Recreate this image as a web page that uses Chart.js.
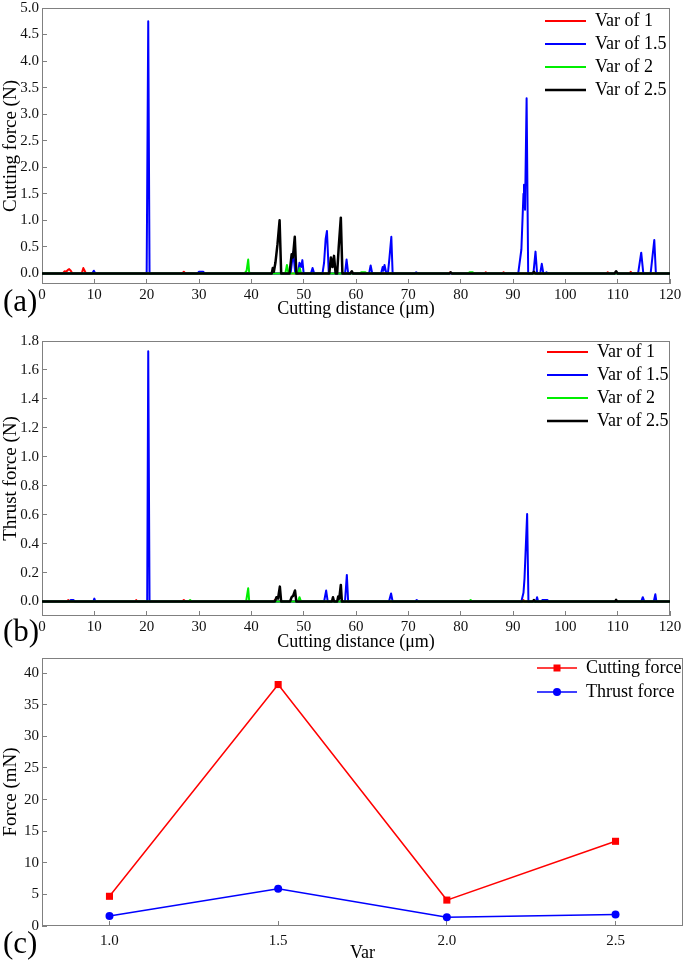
<!DOCTYPE html>
<html><head><meta charset="utf-8">
<script src="https://cdn.jsdelivr.net/npm/chart.js@4.4.0/dist/chart.umd.min.js"></script>
<style>
html,body{margin:0;padding:0;background:#fff;}
body{width:685px;height:965px;position:relative;overflow:hidden;font-family:'Liberation Serif',serif;}
canvas{position:absolute;left:0;}
.lbl{position:absolute;left:3px;font-size:31px;line-height:1;color:#000;font-family:'Liberation Serif',serif;}
</style></head><body>
<canvas id="ca" width="685" height="320" style="top:0px"></canvas>
<canvas id="cb" width="685" height="335" style="top:320px"></canvas>
<canvas id="cc" width="685" height="310" style="top:655px"></canvas>
<div class="lbl" style="top:285px">(a)</div>
<div class="lbl" style="top:615px">(b)</div>
<div class="lbl" style="top:927px">(c)</div>
<script>
// ---------- DATA ----------
const seriesNames = ['Var of 1', 'Var of 1.5', 'Var of 2', 'Var of 2.5'];
const seriesColors = ['#ff0000', '#0000ff', '#00ee00', '#000000'];

// Panel (a): cutting force (N) vs cutting distance (um), [distance, force]
const cutVar1 = [[0,0],[4.0,0],[4.3,0.04],[4.6,0.03],[4.9,0.06],[5.2,0.08],[5.5,0.05],[5.8,0],[7.6,0],[7.9,0.1],[8.1,0.06],[8.4,0],
  [26.8,0],[27.1,0.03],[27.4,0],[77.8,0],[78.0,0.02],[78.2,0],[84.6,0],[84.8,0.02],[85.0,0],[88.0,0],[88.2,0.02],[88.4,0],
  [107.9,0],[108.1,0.02],[108.3,0],[112.3,0],[112.5,0.03],[112.7,0],[120,0]];
const cutVar15 = [[0,0],[9.6,0],[9.9,0.05],[10.2,0],[20.0,0],[20.3,4.75],[20.55,0],[29.7,0],[30.0,0.03],[30.8,0.03],[31.1,0],
  [47.5,0],[48.0,0.4],[48.4,0],[48.9,0],[49.2,0.2],[49.5,0.12],[49.75,0.25],[50.0,0],[51.4,0],[51.7,0.1],[52.0,0],
  [53.6,0],[53.9,0.2],[54.2,0.65],[54.45,0.8],[54.8,0],[57.9,0],[58.2,0.26],[58.5,0],[62.5,0],[62.8,0.15],[63.1,0],
  [64.8,0],[65.1,0.12],[65.25,0.05],[65.45,0.16],[65.8,0],[66.1,0],[66.4,0.3],[66.75,0.69],[67.0,0],[71.2,0],[71.5,0.02],[71.9,0],
  [91.0,0],[91.6,0.45],[92.0,1.5],[92.1,1.67],[92.3,1.2],[92.6,3.3],[92.9,0],[93.9,0],[94.3,0.41],[94.6,0],
  [95.2,0],[95.5,0.18],[95.8,0],[96.2,0],[96.4,0.02],[96.7,0],[113.9,0],[114.5,0.39],[114.9,0],[116.3,0],[117.0,0.63],[117.3,0],[120,0]];
const cutVar2 = [[0,0],[38.7,0],[39.1,0.05],[39.4,0.26],[39.6,0],[46.5,0],[46.8,0.16],[47.1,0],[48.9,0],[49.25,0.1],[49.5,0],
  [60.7,0],[61.0,0.02],[61.8,0.02],[62.1,0],[77.8,0],[78.0,0.01],[78.3,0],[81.4,0],[81.7,0.02],[82.3,0.02],[82.6,0],[120,0]];
const cutVar25 = [[0,0],[43.9,0],[44.1,0.1],[44.3,0.03],[44.6,0.2],[45.0,0.55],[45.4,1.0],[45.7,0],[47.3,0],[47.7,0.36],[47.95,0.3],[48.3,0.69],[48.6,0],
  [54.9,0],[55.2,0.3],[55.5,0.12],[55.8,0.33],[56.1,0],[56.4,0],[56.7,0.5],[57.1,1.05],[57.4,0],[58.9,0],[59.2,0.04],[59.4,0],
  [77.9,0],[78.1,0.02],[78.3,0],[93.8,0],[94.0,0.03],[94.2,0],[109.4,0],[109.7,0.04],[110.0,0],[120,0]];

// Panel (b): thrust force (N) vs cutting distance (um), [distance, force]
const thrVar1 = [[0,0],[4.8,0],[5.0,0.01],[5.3,0],[17.8,0],[18.0,0.01],[18.2,0],[26.8,0],[27.1,0.01],[27.4,0],[44.2,0],[44.5,0.01],[44.8,0],[91.8,0],[92.0,0.01],[92.2,0],[120,0]];
const thrVar15 = [[0,0],[5.2,0],[5.5,0.01],[6.0,0.01],[6.3,0],[9.8,0],[10.0,0.02],[10.2,0],[20.1,0],[20.3,1.73],[20.55,0],
  [53.9,0],[54.3,0.076],[54.6,0],[57.9,0],[58.25,0.184],[58.5,0],[66.3,0],[66.7,0.055],[67.0,0],[71.3,0],[71.6,0.01],[72.0,0],
  [91.6,0],[92.0,0.06],[92.2,0.16],[92.7,0.605],[92.95,0],[94.4,0],[94.6,0.03],[94.8,0],[95.4,0],[95.6,0.01],[96.6,0.01],[96.8,0],
  [114.5,0],[114.8,0.03],[115.1,0],[116.9,0],[117.2,0.05],[117.4,0],[120,0]];
const thrVar2 = [[0,0],[28.0,0],[28.3,0.01],[28.6,0],[39.0,0],[39.4,0.092],[39.6,0],[48.9,0],[49.2,0.03],[49.5,0],[81.6,0],[81.9,0.01],[82.2,0],[120,0]];
const thrVar25 = [[0,0],[44.5,0],[44.8,0.03],[45.1,0.02],[45.45,0.103],[45.7,0],[47.4,0],[47.7,0.03],[48.0,0.04],[48.35,0.076],[48.6,0],
  [55.4,0],[55.6,0.03],[55.8,0],[56.4,0],[56.6,0.035],[56.8,0.02],[57.1,0.115],[57.3,0],[93.8,0],[94.0,0.01],[94.2,0],[109.5,0],[109.7,0.012],[109.9,0],[120,0]];

// Panel (c): average force (mN) vs Var
const varValues = [1.0, 1.5, 2.0, 2.5];
const avgCutting = [4.7, 38.2, 4.1, 13.4];
const avgThrust = [1.6, 5.9, 1.4, 1.8];

// Tick labels
const distTicks = [0,10,20,30,40,50,60,70,80,90,100,110,120];
const distTickLabels = ['0','10','20','30','40','50','60','70','80','90','100','110','120'];
const cutTicks = [0,0.5,1.0,1.5,2.0,2.5,3.0,3.5,4.0,4.5,5.0];
const cutTickLabels = ['0.0','0.5','1.0','1.5','2.0','2.5','3.0','3.5','4.0','4.5','5.0'];
const thrTicks = [0,0.2,0.4,0.6,0.8,1.0,1.2,1.4,1.6,1.8];
const thrTickLabels = ['0.0','0.2','0.4','0.6','0.8','1.0','1.2','1.4','1.6','1.8'];
const forceTicks = [0,5,10,15,20,25,30,35,40];
const forceTickLabels = ['0','5','10','15','20','25','30','35','40'];
const varTicks = [1.0,1.5,2.0,2.5];
const varTickLabels = ['1.0','1.5','2.0','2.5'];

// ---------- RENDERING ----------
const FAM = "'Liberation Serif', 'Times New Roman', serif";
const FRAME = '#808080';

const framePlugin = {
  id: 'frame',
  beforeDatasetsDraw(chart) {
    const {ctx, chartArea: a} = chart;
    ctx.save();
    ctx.strokeStyle = FRAME; ctx.lineWidth = 1;
    const l = Math.round(a.left) + 0.5, t = Math.round(a.top) + 0.5;
    const r = Math.round(a.right) - 0.5, b = Math.round(a.bottom) - 0.5;
    ctx.strokeRect(l, t, r - l, b - t);
    ctx.restore();
  }
};
const legendPos = {
  id: 'legendPos',
  afterLayout(chart, args, opts) {
    const lg = chart.legend;
    if (!lg || opts.left == null) return;
    lg.left = opts.left; lg.top = opts.top;
    lg.right = opts.left + lg.width; lg.bottom = opts.top + 400;
  }
};

function axis(o) {
  return {
    type: 'linear', min: o.min, max: o.max,
    afterBuildTicks: s => { s.ticks = o.ticks.map(v => ({value: v})); },
    afterFit: s => {
      if (o.width != null) s.width = o.width;
      if (o.height != null) s.height = o.height;
      s.paddingLeft = 0; s.paddingRight = 0; s.paddingTop = 0; s.paddingBottom = 0;
    },
    grid: {display: true, drawOnChartArea: false, drawTicks: true, tickLength: -5, color: FRAME, lineWidth: 1},
    border: {display: false},
    ticks: {padding: o.pad, autoSkip: false, maxRotation: 0, color: '#111',
      font: {family: FAM, size: 15, lineHeight: 1}, callback: (v, i) => o.labels[i]},
    title: {display: true, text: o.title, color: '#000', font: {family: FAM, size: o.tsize || 18, lineHeight: 1.2}, padding: o.tpad}
  };
}

function lineDs(label, pts, color, width, order) {
  return {label, data: pts.map(p => ({x: p[0], y: p[1]})), borderColor: color, backgroundColor: color,
    borderWidth: width, borderJoinStyle: 'round', pointRadius: 0, pointHoverRadius: 0, tension: 0, fill: false, order};
}

function forceChart(id, sets, yo, xo, pad, leg) {
  return new Chart(document.getElementById(id), {
    type: 'line',
    data: {datasets: [
      lineDs(seriesNames[0], sets[0], seriesColors[0], 2, 4),
      lineDs(seriesNames[1], sets[1], seriesColors[1], 2, 3),
      lineDs(seriesNames[2], sets[2], seriesColors[2], 2, 2),
      lineDs(seriesNames[3], sets[3], seriesColors[3], 2.5, 1)
    ]},
    options: {
      responsive: false, animation: false, events: [],
      layout: {autoPadding: false, padding: pad},
      scales: {x: axis(xo), y: axis(yo)},
      plugins: {
        tooltip: {enabled: false},
        legend: {display: true, position: 'chartArea', align: 'start',
          labels: {usePointStyle: true, pointStyle: 'line', pointStyleWidth: 41, padding: 5, color: '#000',
            font: {family: FAM, size: 18}, sort: (a, b) => a.datasetIndex - b.datasetIndex}},
        legendPos: leg
      }
    },
    plugins: [framePlugin, legendPos]
  });
}

forceChart('ca', [cutVar1, cutVar15, cutVar2, cutVar25],
  {min: -0.2, max: 5.0, ticks: cutTicks, labels: cutTickLabels, width: 42, pad: 8, title: 'Cutting force (N)', tsize: 19, tpad: {top: 0, bottom: 0}},
  {min: 0, max: 120, ticks: distTicks, labels: distTickLabels, height: 36, pad: 8.5, title: 'Cutting distance (μm)', tpad: {top: 0, bottom: 0}},
  {top: 8, right: 15, left: 0, bottom: 0}, {left: 540, top: 7});

forceChart('cb', [thrVar1, thrVar15, thrVar2, thrVar25],
  {min: -0.1, max: 1.8, ticks: thrTicks, labels: thrTickLabels, width: 42, pad: 8, title: 'Thrust force (N)', tsize: 19, tpad: {top: 0, bottom: 0}},
  {min: 0, max: 120, ticks: distTicks, labels: distTickLabels, height: 39, pad: 8.5, title: 'Cutting distance (μm)', tpad: {top: 0, bottom: 2}},
  {top: 21, right: 15, left: 0, bottom: 0}, {left: 542, top: 18});

// Legend icons for panel (c): line with marker
function icon(color, shape) {
  const c = document.createElement('canvas');
  c.width = 40; c.height = 12;
  const g = c.getContext('2d');
  g.strokeStyle = color; g.fillStyle = color; g.lineWidth = 1.5;
  g.beginPath(); g.moveTo(0, 6); g.lineTo(40, 6); g.stroke();
  if (shape === 'rect') { g.fillRect(16.5, 2.5, 7, 7); }
  else { g.beginPath(); g.arc(20, 6, 4, 0, Math.PI * 2); g.fill(); }
  return c;
}
const iconsC = [icon('#ff0000', 'rect'), icon('#0000ff', 'circle')];

new Chart(document.getElementById('cc'), {
  type: 'line',
  data: {datasets: [
    {label: 'Cutting force', data: varValues.map((v, i) => ({x: v, y: avgCutting[i]})), borderColor: '#ff0000', backgroundColor: '#ff0000',
      borderWidth: 1.5, pointStyle: 'rect', pointRadius: 5, pointBackgroundColor: '#ff0000', pointBorderWidth: 0, tension: 0, fill: false},
    {label: 'Thrust force', data: varValues.map((v, i) => ({x: v, y: avgThrust[i]})), borderColor: '#0000ff', backgroundColor: '#0000ff',
      borderWidth: 1.5, pointStyle: 'circle', pointRadius: 4, pointBackgroundColor: '#0000ff', pointBorderWidth: 0, tension: 0, fill: false}
  ]},
  options: {
    responsive: false, animation: false, events: [],
    layout: {autoPadding: false, padding: {top: 3, right: 2, left: 0, bottom: 0}},
    scales: {
      x: axis({min: 0.8, max: 2.7, ticks: varTicks, labels: varTickLabels, height: 39, pad: 13, title: 'Var', tpad: {top: 0, bottom: 1}}),
      y: axis({min: 0, max: 42.4, ticks: forceTicks, labels: forceTickLabels, width: 42, pad: 8, title: 'Force (mN)', tsize: 19, tpad: {top: 0, bottom: 0}})
    },
    plugins: {
      tooltip: {enabled: false},
      legend: {display: true, position: 'chartArea', align: 'start',
        labels: {usePointStyle: true, pointStyleWidth: 40, padding: 6, color: '#000', font: {family: FAM, size: 18},
          generateLabels(chart) {
            const items = Chart.defaults.plugins.legend.labels.generateLabels(chart);
            items.forEach((it, i) => { it.pointStyle = iconsC[i]; });
            return items;
          }}},
      legendPos: {left: 531, top: -2}
    }
  },
  plugins: [framePlugin, legendPos]
});
</script>
</body></html>
